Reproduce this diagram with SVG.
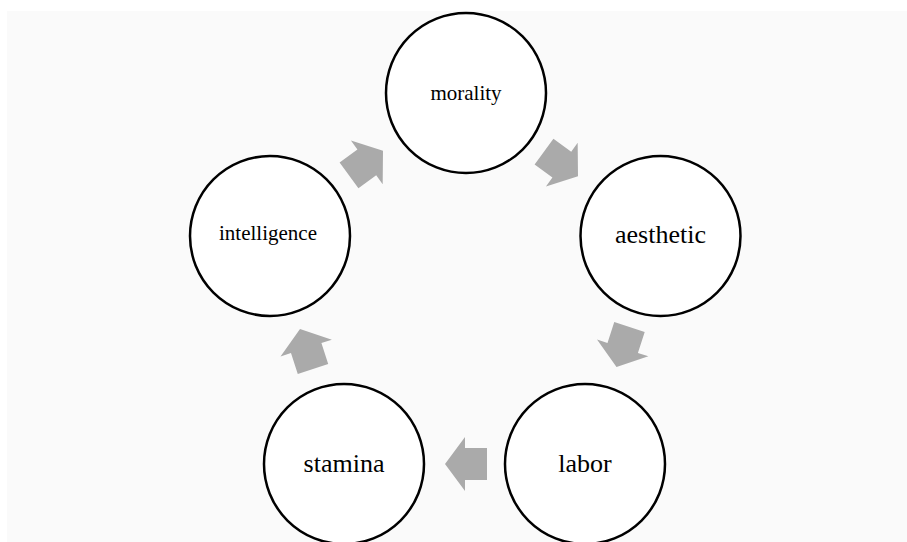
<svg xmlns="http://www.w3.org/2000/svg" width="907" height="542" viewBox="0 0 907 542">
<defs>
<style>
.node{fill:#ffffff;stroke:#000000;stroke-width:2.5}
.lbl{fill:#000000;text-anchor:middle}
.arr{fill:#aaaaaa}
</style>
<path id="arrow" d="M21,0 L1,-27 L1,-16 L-21,-16 L-21,16 L1,16 L1,27 Z"/>
</defs>
<rect x="0" y="0" width="907" height="542" fill="#ffffff"/>
<rect x="7" y="11" width="900" height="531" fill="#fafafa"/>
<g id="connectors">
<use href="#arrow" class="arr" transform="translate(366,163) rotate(-36)"/>
<use href="#arrow" class="arr" transform="translate(561,164) rotate(36)"/>
<use href="#arrow" class="arr" transform="translate(623,347) rotate(108)"/>
<use href="#arrow" class="arr" transform="translate(466,464) rotate(180)"/>
<use href="#arrow" class="arr" transform="translate(306.5,349) rotate(252)"/>
</g>
<g id="morality">
<circle class="node" cx="466" cy="93" r="80"/>
<text class="lbl" x="466" y="100" font-family="Liberation Serif, serif" font-size="21">morality</text>
</g>
<g id="aesthetic">
<circle class="node" cx="660.5" cy="236" r="80"/>
<text class="lbl" x="660.5" y="243" font-family="Liberation Serif, serif" font-size="26">aesthetic</text>
</g>
<g id="labor">
<circle class="node" cx="585" cy="464" r="80"/>
<text class="lbl" x="585" y="472" font-family="Liberation Serif, serif" font-size="26">labor</text>
</g>
<g id="stamina">
<circle class="node" cx="344" cy="464" r="80"/>
<text class="lbl" x="344" y="472" font-family="Liberation Serif, serif" font-size="26">stamina</text>
</g>
<g id="intelligence">
<circle class="node" cx="270" cy="236" r="80"/>
<text class="lbl" x="268" y="240" font-family="Liberation Serif, serif" font-size="21">intelligence</text>
</g>
</svg>
